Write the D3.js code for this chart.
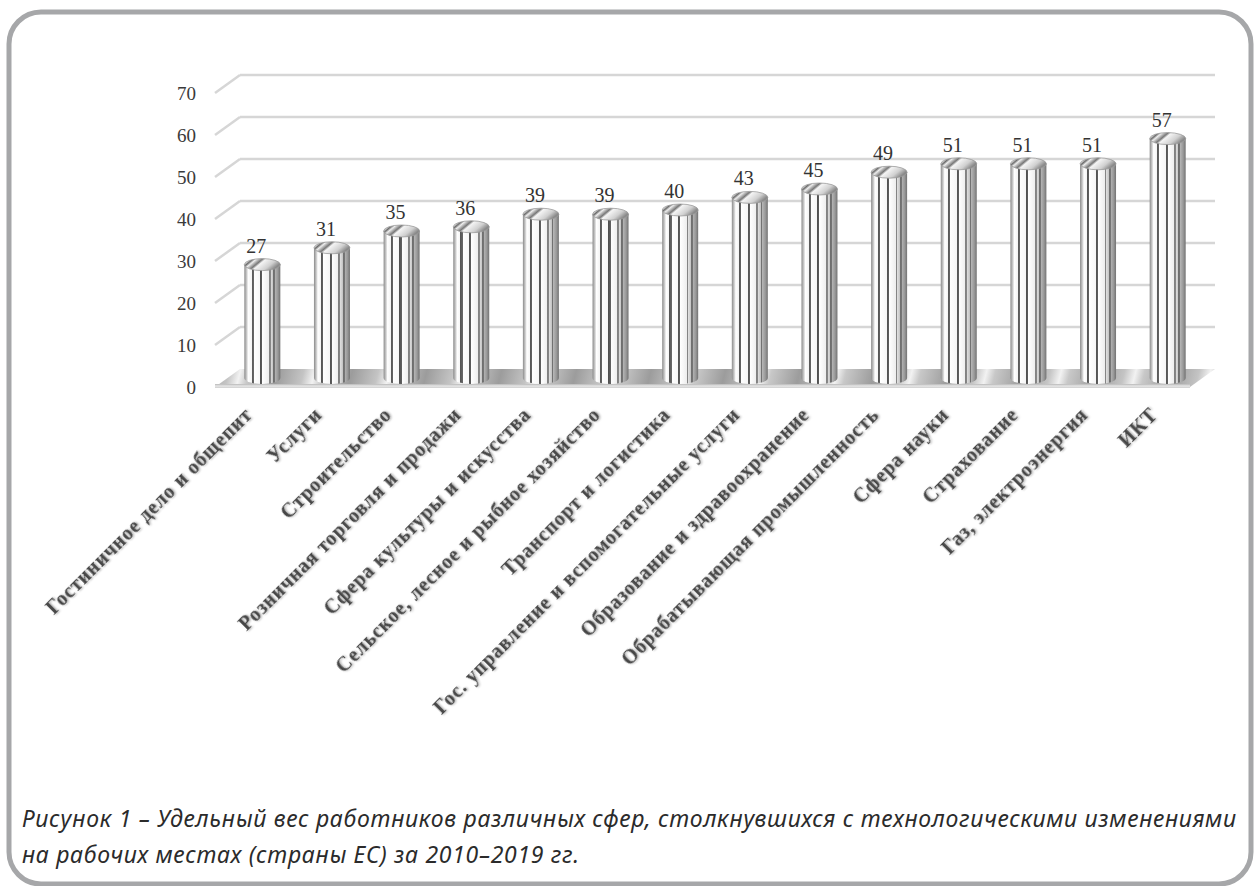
<!DOCTYPE html>
<html>
<head>
<meta charset="utf-8">
<script src="https://cdn.jsdelivr.net/npm/d3@7"></script>
<style>
  body { margin: 0; background: #fff; }
  svg { display: block; }
</style>
</head>
<body>
<div class="chart"></div>
<script>
const categories = [
  "Гостиничное дело и общепит", "Услуги", "Строительство", "Розничная торговля и продажи",
  "Сфера культуры и искусства", "Сельское, лесное и рыбное хозяйство", "Транспорт и логистика",
  "Гос. управление и вспомогательные услуги", "Образование и здравоохранение",
  "Обрабатывающая промышленность", "Сфера науки", "Страхование", "Газ, электроэнергия", "ИКТ"
];
const values = [27, 31, 35, 36, 39, 39, 40, 43, 45, 49, 51, 51, 51, 57];
const yTicks = [0, 10, 20, 30, 40, 50, 60, 70];
const captionLines = [
  "Рисунок 1 – Удельный вес работников различных сфер, столкнувшихся с технологическими изменениями",
  "на рабочих местах (страны ЕС) за 2010–2019 гг."
];

const width = 1254, height = 886;
// 3d depth offset of the floor / side wall
const depth = { dx: -25, dy: 18 };

const svg = d3.select(".chart").append("svg")
  .attr("width", width).attr("height", height);

const defs = svg.append("defs");

// bar stripes
const barGrad = defs.append("linearGradient").attr("id", "barGrad")
  .attr("x1", 0).attr("x2", 1).attr("y1", 0).attr("y2", 0);
[[0, "#8a8a8a"], [0.07, "#cfcfcf"], [0.11, "#ffffff"], [0.2, "#f4f4f4"], [0.2, "#555555"], [0.26, "#666666"],
 [0.26, "#ffffff"], [0.44, "#f6f6f6"], [0.44, "#505050"], [0.5, "#606060"], [0.5, "#ffffff"], [0.68, "#eeeeee"],
 [0.68, "#808080"], [0.73, "#888888"], [0.73, "#dedede"], [0.8, "#c4c4c4"], [0.8, "#6e6e6e"], [0.85, "#767676"],
 [0.85, "#b4b4b4"], [0.93, "#999999"], [1, "#727272"]]
  .forEach(([o, c]) => barGrad.append("stop").attr("offset", o).attr("stop-color", c));

const capGrad = defs.append("linearGradient").attr("id", "capGrad")
  .attr("x1", 0).attr("x2", 1).attr("y1", 0).attr("y2", 0.4);
[[0, "#bdbdbd"], [0.15, "#f2f2f2"], [0.22, "#6a6a6a"], [0.3, "#eeeeee"], [0.45, "#777777"], [0.53, "#f4f4f4"],
 [0.8, "#d0d0d0"], [1, "#8a8a8a"]]
  .forEach(([o, c]) => capGrad.append("stop").attr("offset", o).attr("stop-color", c));

// floor with diagonal light streaks
const floorGrad = defs.append("linearGradient").attr("id", "floorGrad")
  .attr("gradientUnits", "userSpaceOnUse")
  .attr("x1", 0).attr("y1", 0).attr("x2", 70).attr("y2", 18)
  .attr("spreadMethod", "repeat");
[[0, "#9c9c9c"], [0.35, "#c4c4c4"], [0.5, "#f2f2f2"], [0.62, "#c8c8c8"], [1, "#9c9c9c"]]
  .forEach(([o, c]) => floorGrad.append("stop").attr("offset", o).attr("stop-color", c));

const edgeGrad = defs.append("linearGradient").attr("id", "edgeGrad")
  .attr("x1", 0).attr("x2", 0).attr("y1", 0).attr("y2", 1);
[[0, "#b8b8b8"], [0.5, "#e6e6e6"], [1, "#cfcfcf"]]
  .forEach(([o, c]) => edgeGrad.append("stop").attr("offset", o).attr("stop-color", c));

const shadow = defs.append("filter").attr("id", "txtShadow")
  .attr("x", "-10%").attr("y", "-10%").attr("width", "130%").attr("height", "130%");
shadow.append("feDropShadow").attr("dx", 1).attr("dy", 1).attr("stdDeviation", 1)
  .attr("flood-color", "#000").attr("flood-opacity", 0.35);

const soft = defs.append("filter").attr("id", "soft");
soft.append("feGaussianBlur").attr("stdDeviation", 0.6);

// frame
svg.append("rect")
  .attr("x", 9).attr("y", 12).attr("width", 1242).attr("height", 872)
  .attr("rx", 32).attr("ry", 32)
  .attr("fill", "none").attr("stroke", "#a6a7a9").attr("stroke-width", 5);

//scales (back wall)
const x = d3.scaleBand()
  .domain(categories)
  .range([240, 1215]);

const y = d3.scaleLinear()
  .domain([0, 70])
  .range([369, 75]);

// gridlines on back wall + side wall
const grid = svg.append("g").attr("filter", "url(#soft)");
grid.selectAll(".back").data(yTicks.filter(d => d > 0)).join("line")
  .attr("x1", x.range()[0]).attr("x2", x.range()[1])
  .attr("y1", d => y(d)).attr("y2", d => y(d))
  .attr("stroke", "#d6d6d6").attr("stroke-width", 2.5);
grid.selectAll(".side").data(yTicks.filter(d => d > 0)).join("line")
  .attr("x1", x.range()[0]).attr("y1", d => y(d))
  .attr("x2", x.range()[0] + depth.dx).attr("y2", d => y(d) + depth.dy)
  .attr("stroke", "#d6d6d6").attr("stroke-width", 2.5);

// floor
const x0 = x.range()[0], x1 = x.range()[1], yf = y(0);
svg.append("path")
  .attr("d", `M${x0},${yf} L${x1},${yf} L${x1 + depth.dx},${yf + depth.dy} L${x0 + depth.dx},${yf + depth.dy} Z`)
  .attr("fill", "url(#floorGrad)");
svg.append("rect")
  .attr("x", x0 + depth.dx).attr("y", yf + depth.dy - 3)
  .attr("width", x1 - x0).attr("height", 4)
  .attr("fill", "url(#edgeGrad)");

// y axis labels (front plane)
svg.append("g").selectAll("text").data(yTicks).join("text")
  .attr("x", 196)
  .attr("y", d => y(d) + depth.dy)
  .attr("dy", "0.35em")
  .attr("text-anchor", "end")
  .attr("font-family", "Liberation Serif, serif")
  .attr("font-size", 19)
  .attr("fill", "#3a3a3a")
  .text(d => d);

// bars (cylinders) at mid depth
const bw = 36, ry = 6;
const cx = d => x(d.cat) + x.bandwidth() / 2 + depth.dx / 2;
const base = y(0) + depth.dy / 2;
const data = categories.map((c, i) => ({ cat: c, value: values[i] }));

const bars = svg.append("g").selectAll("g").data(data).join("g");
bars.append("path")
  .attr("d", d => {
    const l = cx(d) - bw / 2, r = cx(d) + bw / 2, t = y(d.value) + depth.dy / 2;
    return `M${l},${t} L${l},${base} A${bw / 2},${ry} 0 0 0 ${r},${base} L${r},${t} Z`;
  })
  .attr("fill", "url(#barGrad)");
bars.append("ellipse")
  .attr("cx", cx)
  .attr("cy", d => y(d.value) + depth.dy / 2)
  .attr("rx", bw / 2).attr("ry", ry)
  .attr("fill", "url(#capGrad)")
  .attr("stroke", "#9a9a9a").attr("stroke-width", 0.8);

// value labels
bars.append("text")
  .attr("x", d => cx(d) - 6)
  .attr("y", d => y(d.value) + depth.dy / 2 - 12)
  .attr("text-anchor", "middle")
  .attr("font-family", "Liberation Serif, serif")
  .attr("font-size", 20)
  .attr("fill", "#333")
  .text(d => d.value);

// category labels, rotated
svg.append("g").selectAll("text").data(data).join("text")
  .attr("transform", d => `translate(${cx(d) - 9},${416}) rotate(-45)`)
  .attr("text-anchor", "end")
  .attr("font-family", "Liberation Serif, serif")
  .attr("font-weight", "bold")
  .attr("font-size", 20)
  .attr("letter-spacing", 0.8)
  .attr("fill", "#474747")
  .attr("filter", "url(#txtShadow)")
  .text(d => d.cat);

// caption
svg.append("g").selectAll("text").data(captionLines).join("text")
  .attr("x", 22)
  .attr("y", (d, i) => 827 + i * 36)
  .attr("font-family", "Noto Sans, sans-serif")
  .attr("font-style", "italic")
  .attr("font-size", 23)
  .attr("letter-spacing", 0.7)
  .attr("fill", "#2b2b2b")
  .text(d => d);
</script>
</body>
</html>
